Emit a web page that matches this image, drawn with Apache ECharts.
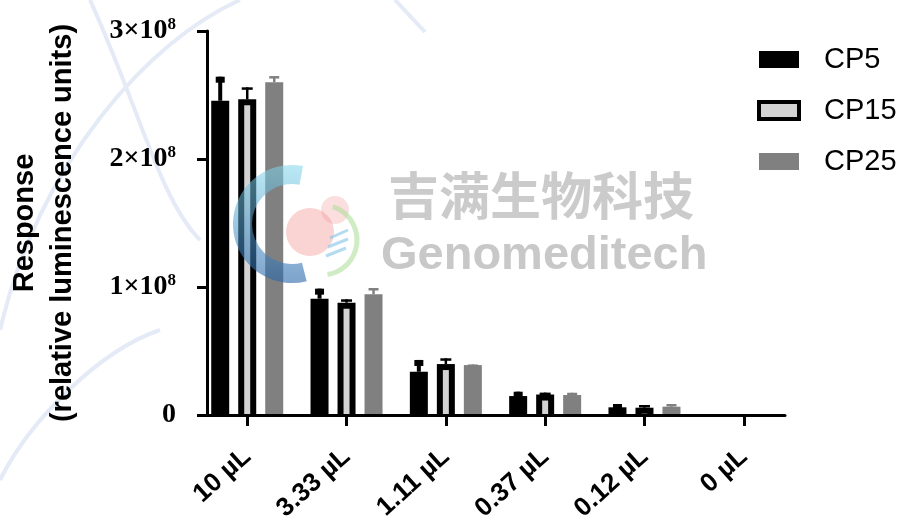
<!DOCTYPE html>
<html><head><meta charset="utf-8">
<script src="https://cdn.jsdelivr.net/npm/echarts@6/dist/echarts.min.js"></script>
<style>html,body{margin:0;padding:0;background:#fff}#c{width:903px;height:521px}</style>
</head><body><div id="c"></div>
<script>
// ---- data ----
const categories = ['10 µL', '3.33 µL', '1.11 µL', '0.37 µL', '0.12 µL', '0 µL'];
const positions = [0, 1, 2, 3, 4, 5];
const seriesNames = ['CP5', 'CP15', 'CP25'];
const cp5 = [2.455e8, 0.909e8, 0.338e8, 0.148e8, 0.060e8, 0];
const cp5Err = [0.188e8, 0.078e8, 0.092e8, 0.034e8, 0.026e8, 0];
const cp15 = [2.466e8, 0.877e8, 0.398e8, 0.160e8, 0.057e8, 0];
const cp15Err = [0.094e8, 0.027e8, 0.045e8, 0.015e8, 0.021e8, 0];
const cp25 = [2.600e8, 0.943e8, 0.390e8, 0.156e8, 0.065e8, 0];
const cp25Err = [0.048e8, 0.049e8, 0.005e8, 0.018e8, 0.021e8, 0];
const yTicks = [0, 1e8, 2e8, 3e8];

// ---- layout / style ----
const BAR_W = 18, GAP = 0.5;
function offsetOf(i) { return (i - 1) * BAR_W * (1 + GAP); }
function pairs(arr) { return arr.map((v, i) => [positions[i], v]); }
function errData(vals, errs) { return vals.map((v, i) => [positions[i], v + errs[i], v]); }

function errRender(idx, st) {
  return function (params, api) {
    const x = api.value(0), hi = api.value(1), v = api.value(2);
    const pHi = api.coord([x, hi]), pV = api.coord([x, v]), p0 = api.coord([x, 0]);
    const cx = pHi[0] + offsetOf(idx);
    const children = [];
    if (st.inner) {
      const top = pV[1] + st.border;
      if (p0[1] - top > 0.5) {
        children.push({ type: 'rect', shape: { x: cx - BAR_W / 2 + st.border, y: top, width: BAR_W - 2 * st.border, height: p0[1] - top }, style: { fill: st.inner } });
      }
    }
    if (hi > v) {
      children.push({ type: 'rect', shape: { x: cx - st.stem / 2, y: pHi[1], width: st.stem, height: pV[1] - pHi[1] }, style: { fill: st.color } });
      children.push({ type: 'rect', shape: { x: cx - st.cap / 2, y: pHi[1], width: st.cap, height: st.capH }, style: { fill: st.color } });
    }
    return { type: 'group', children };
  };
}

const chart = echarts.init(document.getElementById('c'));
const option = {
  backgroundColor: '#ffffff',
  animation: false,
  grid: { left: 207, right: 118, top: 31, bottom: 106, containLabel: false, outerBoundsMode: 'none' },
  xAxis: {
    type: 'value', min: -0.405, max: 5.415, z: 6,
    splitLine: { show: false },
    axisLine: { lineStyle: { color: '#000', width: 3 } },
    axisTick: { customValues: positions, length: 11, lineStyle: { color: '#000', width: 3 } },
    axisLabel: {
      customValues: positions, rotate: 42, margin: 38,
      formatter: v => categories[Math.round(v)],
      fontFamily: 'Liberation Sans', fontWeight: 'bold', fontSize: 26, color: '#000'
    }
  },
  yAxis: {
    type: 'value', min: 0, max: 3e8, interval: 1e8, z: 6,
    splitLine: { show: false },
    axisLine: { show: true, onZero: false, lineStyle: { color: '#000', width: 3 } },
    axisTick: { show: true, length: 10, lineStyle: { color: '#000', width: 3 } },
    axisLabel: {
      margin: 31,
      formatter: v => v === 0 ? '{a|0}' : '{a|' + Math.round(v / 1e8) + '×10}{s|8}',
      rich: {
        a: { fontFamily: 'Liberation Serif', fontWeight: 'bold', fontSize: 28, color: '#000', lineHeight: 30 },
        s: { fontFamily: 'Liberation Serif', fontWeight: 'bold', fontSize: 17, color: '#000', lineHeight: 17, verticalAlign: 'top' }
      }
    },
    name: 'Response\n(relative luminescence units)',
    nameLocation: 'middle', nameRotate: 90, nameGap: 125,
    nameTextStyle: { fontFamily: 'Liberation Sans', fontWeight: 'bold', fontSize: 29, lineHeight: 38, color: '#000' }
  },
  legend: {
    orient: 'vertical', left: 752, top: 40, itemWidth: 40, itemHeight: 17, itemGap: 22, icon: 'rect',
    textStyle: { fontFamily: 'Liberation Sans', fontSize: 29, color: '#000', padding: [0, 0, 0, 20] },
    data: [
      { name: 'CP5' },
      { name: 'CP15', itemStyle: { color: '#d3d3d3', borderColor: '#000', borderWidth: 4 } },
      { name: 'CP25' }
    ]
  },
  graphic: [
    { type: 'bezierCurve', silent: true, z: -10, shape: { x1: 0, y1: 330, x2: 240, y2: 0, cpx1: 40, cpy1: 160, cpx2: 150, cpy2: 40 }, style: { stroke: '#e4eaf6', lineWidth: 4, fill: null } },
    { type: 'bezierCurve', silent: true, z: -10, shape: { x1: 90, y1: 0, x2: 200, y2: 240, cpx1: 140, cpy1: 110, cpx2: 160, cpy2: 200 }, style: { stroke: '#e4eaf6', lineWidth: 4, fill: null } },
    { type: 'bezierCurve', silent: true, z: -10, shape: { x1: 0, y1: 480, x2: 160, y2: 330, cpx1: 30, cpy1: 420, cpx2: 100, cpy2: 350 }, style: { stroke: '#e4eaf6', lineWidth: 4, fill: null } },
    { type: 'line', silent: true, z: -10, shape: { x1: 395, y1: 0, x2: 425, y2: 32 }, style: { stroke: '#e4eaf6', lineWidth: 4 } },
    { type: 'text', silent: true, z: 1, left: 388, top: 170, style: { text: '吉满生物科技', font: 'bold 51px "Noto Sans CJK SC"', fill: '#cbcbcb' } },
    { type: 'text', silent: true, z: 1, left: 381, top: 233, style: { text: 'Genomeditech', font: 'bold 47px "Liberation Sans"', fill: '#c8c8c8' } },
    { type: 'sector', silent: true, z: 50, shape: { cx: 292, cy: 224, r: 59, r0: 40, startAngle: Math.PI * 0.42, endAngle: Math.PI * 1.56, clockwise: true },
      style: { fill: new echarts.graphic.LinearGradient(0, 0, 0, 1, [{ offset: 0, color: 'rgba(130,215,235,0.55)' }, { offset: 1, color: 'rgba(40,100,170,0.6)' }]) } },
    { type: 'circle', silent: true, z: 50, shape: { cx: 310, cy: 232, r: 24 }, style: { fill: 'rgba(240,130,130,0.35)' } },
    { type: 'circle', silent: true, z: 50, shape: { cx: 335, cy: 210, r: 14 }, style: { fill: 'rgba(240,140,140,0.28)' } },
    { type: 'arc', silent: true, z: 50, shape: { cx: 322, cy: 240, r: 35, startAngle: -Math.PI * 0.4, endAngle: Math.PI * 0.45 }, style: { stroke: 'rgba(170,220,150,0.55)', lineWidth: 5, fill: null } },
    { type: 'line', silent: true, z: 50, shape: { x1: 330, y1: 238, x2: 348, y2: 230 }, style: { stroke: 'rgba(120,190,230,0.55)', lineWidth: 3 } },
    { type: 'line', silent: true, z: 50, shape: { x1: 328, y1: 247, x2: 348, y2: 239 }, style: { stroke: 'rgba(120,190,230,0.55)', lineWidth: 3 } },
    { type: 'line', silent: true, z: 50, shape: { x1: 326, y1: 256, x2: 346, y2: 248 }, style: { stroke: 'rgba(120,190,230,0.55)', lineWidth: 3 } }
  ],
  series: [
    { name: 'CP5', type: 'bar', data: pairs(cp5), barWidth: BAR_W, barGap: '50%', itemStyle: { color: '#000000' }, z: 2 },
    { name: 'CP15', type: 'bar', data: pairs(cp15), barWidth: BAR_W, barGap: '50%', itemStyle: { color: '#000000' }, z: 2 },
    { name: 'CP25', type: 'bar', data: pairs(cp25), barWidth: BAR_W, barGap: '50%', itemStyle: { color: '#808080' }, z: 2 },
    { name: 'CP5 err', type: 'custom', data: errData(cp5, cp5Err), z: 3, renderItem: errRender(0, { color: '#000', stem: 4, cap: 9, capH: 6 }) },
    { name: 'CP15 err', type: 'custom', data: errData(cp15, cp15Err), z: 3, renderItem: errRender(1, { color: '#000', stem: 2.5, cap: 11, capH: 2.5, inner: '#d3d3d3', border: 6 }) },
    { name: 'CP25 err', type: 'custom', data: errData(cp25, cp25Err), z: 3, renderItem: errRender(2, { color: '#808080', stem: 2.5, cap: 10, capH: 2.5 }) }
  ]
};
chart.setOption(option);
</script>
</body></html>
